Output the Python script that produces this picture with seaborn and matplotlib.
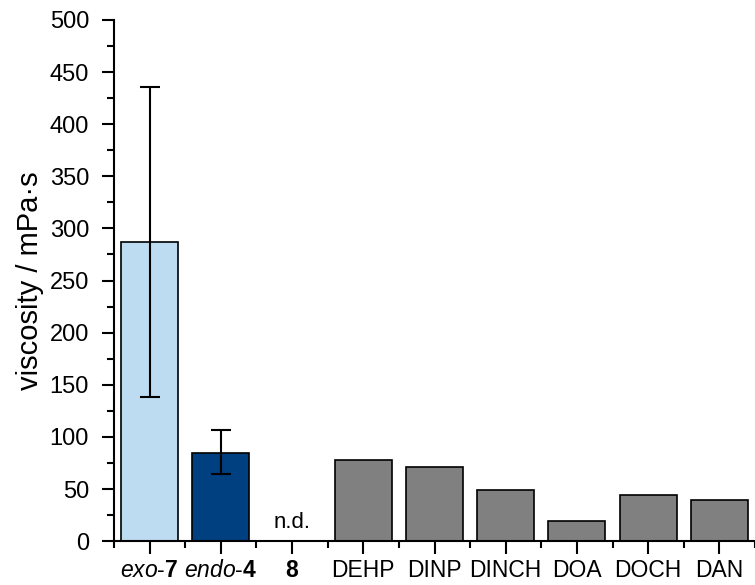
import numpy as np
import pandas as pd
import matplotlib
matplotlib.use("Agg")
import matplotlib.pyplot as plt
import seaborn as sns

# values
names = ["exo-7", "endo-4", "8", "DEHP", "DINP", "DINCH", "DOA", "DOCH", "DAN"]
tick_labels = [r"$\mathit{exo}$-$\mathbf{7}$", r"$\mathit{endo}$-$\mathbf{4}$", r"$\mathbf{8}$",
               "DEHP", "DINP", "DINCH", "DOA", "DOCH", "DAN"]
viscosity = [287, 85, 0, 78, 71, 49, 19.5, 44, 39]
err_low = [149, 21, 0, 0, 0, 0, 0, 0, 0]
err_high = [149, 22, 0, 0, 0, 0, 0, 0, 0]
colors = ["#bddcf2", "#003f80", "#808080", "#808080", "#808080",
          "#808080", "#808080", "#808080", "#808080"]

sns.set_style("ticks")
plt.rcParams["font.family"] = ["Liberation Sans", "DejaVu Sans"]
plt.rcParams["mathtext.fontset"] = "custom"
plt.rcParams["mathtext.rm"] = "Liberation Sans"
plt.rcParams["mathtext.it"] = "Liberation Sans:italic"
plt.rcParams["mathtext.bf"] = "Liberation Sans:bold"
plt.rcParams["text.color"] = "black"
plt.rcParams["axes.labelcolor"] = "black"

df = pd.DataFrame({"name": names, "viscosity": viscosity})

fig = plt.figure(figsize=(7.55, 5.85), dpi=100)
ax = fig.add_axes([0.151, 0.075, 0.849, 0.891])

sns.barplot(data=df, x="name", y="viscosity", hue="name", palette=colors,
            saturation=1, width=0.8, edgecolor="black", linewidth=1.2,
            legend=False, ax=ax)

# error bars only where there is a spread
idx = [i for i in range(len(names)) if err_low[i] > 0]
ax.errorbar(idx, [viscosity[i] for i in idx],
            yerr=[[err_low[i] for i in idx], [err_high[i] for i in idx]],
            fmt="none", ecolor="black", elinewidth=1.5, capsize=7, capthick=1.5)

ax.text(2, 8, "n.d.", ha="center", va="bottom", fontsize=16, color="black")

ax.set_ylim(0, 500)
ax.set_xlim(-0.48, 8.45)
ax.set_yticks(np.arange(0, 501, 50))
ax.set_yticks(np.arange(25, 500, 50), minor=True)
ax.set_xticks(range(len(names)))
ax.set_xticklabels(tick_labels)
ax.set_xticks(np.arange(-0.5, 9, 1), minor=True)
ax.set_xlabel("")
ax.set_ylabel("viscosity / mPa·s", fontsize=21, labelpad=4)

ax.tick_params(axis="both", which="major", labelsize=17, length=9, width=1.5,
               direction="out", colors="black", labelcolor="black", pad=9)
ax.tick_params(axis="both", which="minor", length=5, width=1.5, direction="out",
               colors="black")
ax.tick_params(axis="x", which="major", pad=4, labelsize=16.5)
for s in ["left", "bottom"]:
    ax.spines[s].set_linewidth(1.5)
    ax.spines[s].set_color("black")
sns.despine(ax=ax)

fig.savefig("out.png", dpi=100)
